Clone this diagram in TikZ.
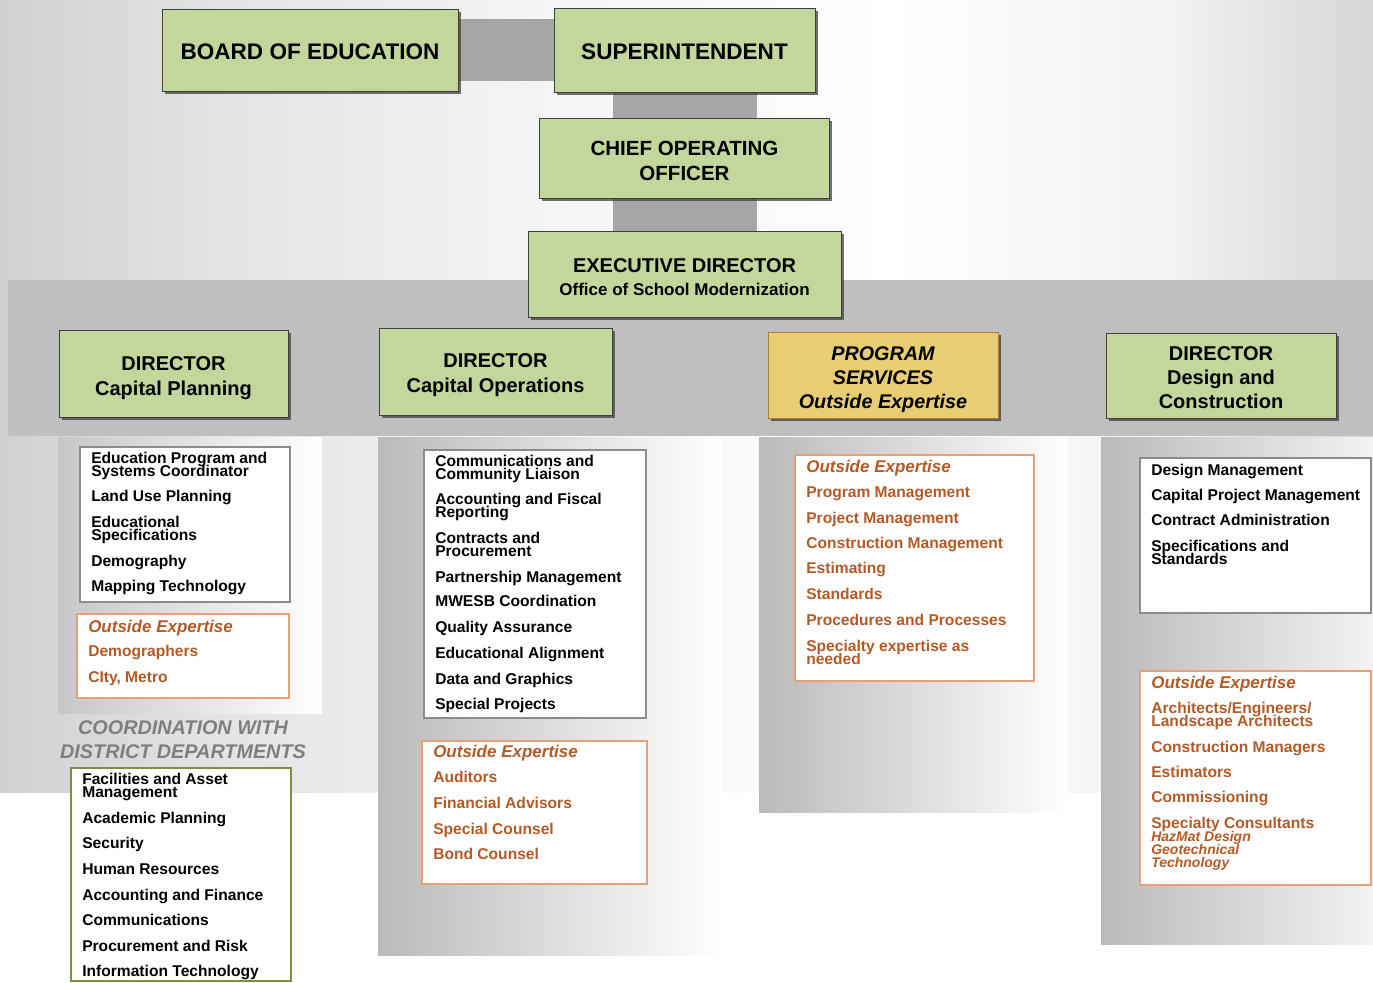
\documentclass[tikz,border=0pt]{standalone}
\usepackage{fontspec}
\setmainfont{Liberation Sans}
\usetikzlibrary{shadows}
\definecolor{gfill}{HTML}{C3D69B}
\definecolor{gborder}{HTML}{3F3F3F}
\definecolor{yfill}{HTML}{E8CD74}
\definecolor{yborder}{HTML}{B07E2E}
\definecolor{otext}{HTML}{B35A26}
\definecolor{oborder}{HTML}{E6A07A}
\definecolor{lborder}{HTML}{8C8C8C}
\definecolor{dborder}{HTML}{77933C}
\definecolor{bandgray}{HTML}{BFBFBF}
\definecolor{bargray}{HTML}{A6A6A6}
\definecolor{coordtext}{HTML}{7F7F7F}
\pgfdeclarehorizontalshading{bgsh}{100bp}{color(0bp)=(black!18); color(25bp)=(black!18); color(34bp)=(black!10); color(45bp)=(black!4); color(57.5bp)=(white); color(67.5bp)=(black!5); color(75bp)=(black!16); color(100bp)=(black!16)}
\pgfdeclarelayer{bg}
\pgfdeclarelayer{back}
\pgfsetlayers{bg,back,main}
\begin{document}
\begin{tikzpicture}[x=0.75pt,y=-0.75pt,
  shad/.style={drop shadow={shadow xshift=2.2pt,shadow yshift=-2.2pt,fill=black!75,opacity=.75}},
  gbox/.style={draw=gborder,line width=0.6pt,fill=gfill,shad,inner sep=0pt},
  ybox/.style={gbox,fill=yfill,draw=yborder},
  btext/.style={align=center,inner sep=0pt,font=\fontsize{15}{18.75}\selectfont\bfseries},
  bar/.style={draw=bargray},
  panel/.style={left color=black!27,right color=white},
  lbox/.style={draw=lborder,line width=0.8pt,fill=white},
  obox/.style={draw=oborder,line width=0.9pt,fill=white},
  dbox/.style={draw=dborder,line width=1.5pt,fill=white},
  item/.style={anchor=base west,inner sep=0pt,font=\fontsize{11.7}{9.75}\selectfont\bfseries,text=black},
  oitem/.style={item,text=otext},
  ohead/.style={item,text=otext,font=\fontsize{12.75}{12}\selectfont\bfseries\itshape},
  hz/.style={item,text=otext,font=\fontsize{10.5}{10}\selectfont\bfseries\itshape}
]
\useasboundingbox (0,0) rectangle (1373,982);
% ---------------- background
\begin{pgfonlayer}{bg}
  \fill[white] (0,0) rectangle (1373,982);
  \shade[shading=bgsh] (0,0) rectangle (1373,792);
  \fill[bandgray] (8,280) rectangle (1373,436);
  \fill[left color=black!22,right color=white] (58,437) rectangle (322,713);
  \fill[panel] (378,437) rectangle (722,955);
  \fill[panel] (759,437) rectangle (1068,812);
  \fill[left color=black!27,right color=black!5] (1101,437) rectangle (1373,944);
\end{pgfonlayer}

% ---------------- top hierarchy
\node[gbox,minimum width=222pt,minimum height=61.5pt] (board) at (310,50) {};
\node[btext,font=\fontsize{16.9}{20}\selectfont\bfseries] (boardt) at (310,52) {BOARD OF EDUCATION};
\node[gbox,minimum width=195.75pt,minimum height=63pt] (super) at (684.5,50) {};
\node[btext,font=\fontsize{16.9}{20}\selectfont\bfseries] (supert) at (684.5,52) {SUPERINTENDENT};
\node[gbox,minimum width=217.5pt,minimum height=60pt] (coo) at (684.5,158) {};
\node[btext,font=\fontsize{15.4}{18.75}\selectfont\bfseries] (coot) at (684.5,160.5) {CHIEF OPERATING\\OFFICER};
\node[gbox,minimum width=234.75pt,minimum height=64.5pt] (exec) at (684.5,274) {};
\node[btext,font=\fontsize{15}{17.25}\selectfont\bfseries] (exect) at (684.5,277) {EXECUTIVE DIRECTOR\\{\fontsize{12.75}{17.25}\selectfont Office of School Modernization}};

\begin{pgfonlayer}{back}
  \draw[bar,line width=46.5pt] (board) -- (super);
  \draw[bar,line width=108pt] (super) -- (coo);
  \draw[bar,line width=108pt] (coo) -- (exec);
\end{pgfonlayer}

% ---------------- directors
\node[gbox,minimum width=171.75pt,minimum height=65.25pt] (dcp) at (173.5,373.5) {};
\node[btext] (dcpt) at (173.5,378) {DIRECTOR\\Capital Planning};
\node[gbox,minimum width=174.75pt,minimum height=65.25pt] (dco) at (495.5,371.5) {};
\node[btext] (dcot) at (495.5,375.5) {DIRECTOR\\Capital Operations};
\node[ybox,minimum width=172.5pt,minimum height=64.5pt] (ps) at (883,375) {};
\node[btext,font=\fontsize{14.85}{18}\selectfont\bfseries\itshape] (pst) at (883,380) {PROGRAM\\SERVICES\\Outside Expertise};
\node[gbox,minimum width=172.5pt,minimum height=63.75pt] (ddc) at (1221,375.5) {};
\node[btext,font=\fontsize{15}{18}\selectfont\bfseries] (ddct) at (1221,377.5) {DIRECTOR\\Design and\\Construction};

% ---------------- column 1
\draw[lbox] (80,447) rectangle (290,602);
\foreach \y/\t [count=\i] in {463.5/Education Program and,476.5/Systems Coordinator,501.5/Land Use Planning,527/Educational,540/Specifications,566/Demography,591.5/Mapping Technology}
  \node[item] (cp\i) at (91,\y) {\t};
\draw[obox] (77,614) rectangle (289,698);
\node[ohead] (cpoh) at (88,632) {Outside Expertise};
\node[oitem] (cpo1) at (88,656.5) {Demographers};
\node[oitem] (cpo2) at (88,682.5) {CIty, Metro};
\node[align=center,inner sep=0pt,text=coordtext,font=\fontsize{14.85}{18}\selectfont\bfseries\itshape] (coord) at (183,740) {COORDINATION WITH\\DISTRICT DEPARTMENTS};
\draw[dbox] (71,768) rectangle (291,981);
\foreach \y/\t [count=\i] in {784.5/Facilities and Asset,797.5/Management,823.5/Academic Planning,848.5/Security,874.5/Human Resources,900.5/Accounting and Finance,925.5/Communications,951.5/Procurement and Risk,976.5/Information Technology}
  \node[item] (dd\i) at (82,\y) {\t};

% ---------------- column 2
\draw[lbox] (424,450) rectangle (646,718);
\foreach \y/\t [count=\i] in {466.5/Communications and,479.5/Community Liaison,504.5/Accounting and Fiscal,517.5/Reporting,543.5/Contracts and,556.5/Procurement,582.5/Partnership Management,606.5/MWESB Coordination,632.5/Quality Assurance,658.5/Educational Alignment,684.5/Data and Graphics,709.5/Special Projects}
  \node[item] (co\i) at (435,\y) {\t};
\draw[obox] (422,741) rectangle (647,884);
\node[ohead] (cooh) at (433,757) {Outside Expertise};
\foreach \y/\t [count=\i] in {782.5/Auditors,808.5/Financial Advisors,834.5/Special Counsel,859.5/Bond Counsel}
  \node[oitem] (coo\i) at (433,\y) {\t};

% ---------------- column 3
\draw[obox] (795,455) rectangle (1034,681);
\node[ohead] (psoh) at (806,472) {Outside Expertise};
\foreach \y/\t [count=\i] in {497.5/Program Management,523.5/Project Management,548.5/Construction Management,573.5/Estimating,599.5/Standards,625.5/Procedures and Processes,651.5/Specialty expertise as,664.5/needed}
  \node[oitem] (pso\i) at (806,\y) {\t};

% ---------------- column 4
\draw[lbox] (1140,458) rectangle (1371,613);
\foreach \y/\t [count=\i] in {475.5/Design Management,500.5/Capital Project Management,525.5/Contract Administration,551.5/Specifications and,564.5/Standards}
  \node[item] (dc\i) at (1151,\y) {\t};
\draw[obox] (1140,671) rectangle (1371,885);
\node[ohead] (dcoh) at (1151,688) {Outside Expertise};
\node[oitem] (dco1) at (1151,713.5) {Architects/Engineers/};
\foreach \y/\t [count=\i from 2] in {726.5/Landscape Architects,752.5/Construction Managers,777.5/Estimators,802.5/Commissioning,828.5/Specialty Consultants}
  \node[oitem] (dco\i) at (1151,\y) {\t};
\node[hz] (hz1) at (1151,841) {HazMat Design};
\node[hz] (hz2) at (1151,854) {Geotechnical};
\node[hz] (hz3) at (1151,867) {Technology};
\end{tikzpicture}
\end{document}
